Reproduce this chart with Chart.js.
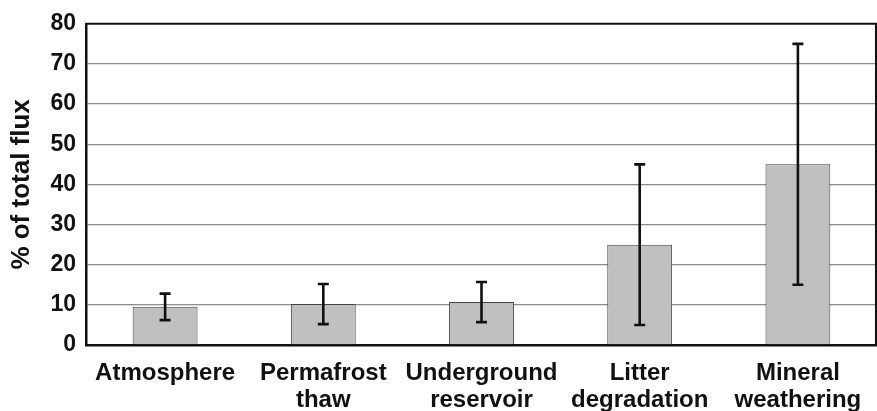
<!DOCTYPE html>
<html>
<head>
<meta charset="utf-8">
<script src="https://cdn.jsdelivr.net/npm/chart.js@4/dist/chart.umd.min.js"></script>
<style>
  html, body { margin: 0; padding: 0; background: #fff; }
  #wrap { width: 877px; height: 411px; position: relative; }
</style>
</head>
<body>
<div id="wrap"><canvas id="c" width="877" height="411"></canvas></div>
<script>
// Flux sources and their share of the total flux (%)
const categories = [
  "Atmosphere",
  ["Permafrost", "thaw"],
  ["Underground", "reservoir"],
  ["Litter", "degradation"],
  ["Mineral", "weathering"]
];
const meanShare = [9.5, 10.2, 10.7, 25, 45];
const errorRange = [3.3, 5, 5, 20, 30];
const yTicks = [0, 10, 20, 30, 40, 50, 60, 70, 80];

const FONT = '"Liberation Sans", Arial, Helvetica, sans-serif';

// Vertical error bars with end caps, placed through the chart's own scales
const errorBars = {
  id: 'errorBars',
  afterDatasetsDraw(chart) {
    const { ctx, scales: { y } } = chart;
    const meta = chart.getDatasetMeta(0);
    ctx.save();
    ctx.strokeStyle = '#111';
    ctx.lineWidth = 2.6;
    meta.data.forEach((bar, i) => {
      const hi = y.getPixelForValue(meanShare[i] + errorRange[i]);
      const lo = y.getPixelForValue(meanShare[i] - errorRange[i]);
      const x = bar.x;
      const cap = 5.5;
      ctx.beginPath();
      ctx.moveTo(x, hi); ctx.lineTo(x, lo);
      ctx.moveTo(x - cap, hi); ctx.lineTo(x + cap, hi);
      ctx.moveTo(x - cap, lo); ctx.lineTo(x + cap, lo);
      ctx.stroke();
    });
    ctx.restore();
  }
};

// Frame around the plotting area
const frame = {
  id: 'frame',
  afterDraw(chart) {
    const { ctx, chartArea: a } = chart;
    ctx.save();
    ctx.strokeStyle = '#111';
    ctx.lineWidth = 2;
    ctx.beginPath();
    ctx.moveTo(a.left, a.top);
    ctx.lineTo(a.right - 1, a.top);
    ctx.lineTo(a.right - 1, a.bottom);
    ctx.stroke();
    ctx.restore();
  }
};

new Chart(document.getElementById('c'), {
  type: 'bar',
  data: {
    labels: categories,
    datasets: [{
      data: meanShare,
      backgroundColor: '#c0c0c0',
      borderColor: '#444',
      borderWidth: 1,
      barPercentage: 0.41,
      categoryPercentage: 1.0
    }]
  },
  options: {
    responsive: false,
    animation: false,
    devicePixelRatio: 1,
    layout: { padding: { top: 17, right: 0, left: 0, bottom: 0 } },
    plugins: { legend: { display: false }, tooltip: { enabled: false } },
    scales: {
      x: {
        grid: { display: false, drawTicks: false },
        border: { display: true, color: '#111', width: 2.5 },
        ticks: {
          color: '#111',
          maxRotation: 0,
          minRotation: 0,
          autoSkip: false,
          padding: 15,
          font: { family: FONT, size: 24, weight: 'bold', lineHeight: 1.12 }
        },
        afterFit(scale) { scale.height = 66; }
      },
      y: {
        min: 0,
        max: 80,
        afterBuildTicks(scale) { scale.ticks = yTicks.map(v => ({ value: v })); },
        grid: {
          color: ctx => (ctx.tick && (ctx.tick.value === 0 || ctx.tick.value === 80)) ? 'rgba(0,0,0,0)' : '#8c8c8c',
          lineWidth: 1.3,
          drawTicks: false
        },
        border: { display: true, color: '#111', width: 2.5 },
        ticks: {
          color: '#111',
          padding: 10,
          font: { family: FONT, size: 23, weight: 'bold' }
        },
        title: {
          display: true,
          text: '% of total flux',
          color: '#111',
          padding: { top: 6, bottom: 0 },
          font: { family: FONT, size: 26, weight: 'bold' }
        },
        afterFit(scale) { scale.width = 86; }
      }
    }
  },
  plugins: [errorBars, frame]
});
</script>
</body>
</html>
